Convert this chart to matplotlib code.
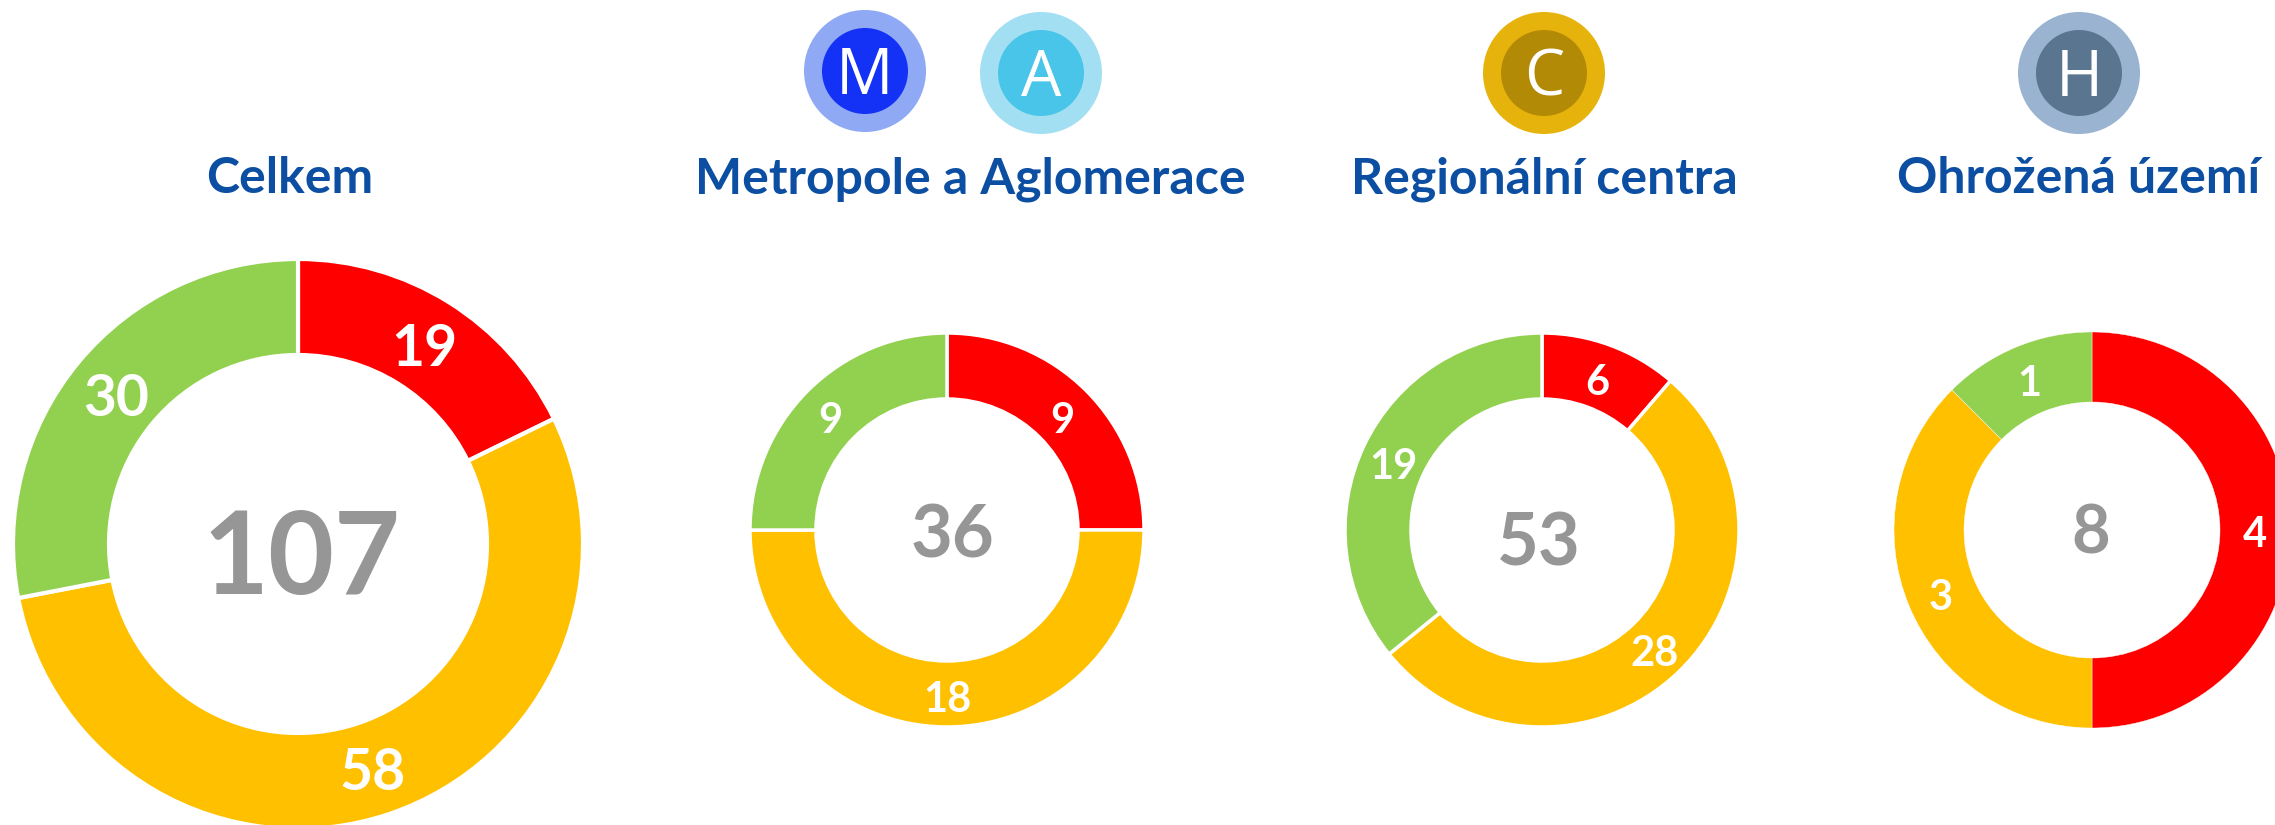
import matplotlib
matplotlib.use('Agg')
import matplotlib.pyplot as plt
from matplotlib.patches import Circle

plt.rcParams['font.family'] = ['Lato', 'DejaVu Sans']

W, H = 2275, 825

titles = ['Celkem', 'Metropole a Aglomerace', 'Regionální centra', 'Ohrožená území']
totals = [107, 36, 53, 8]
red = [19, 9, 6, 4]
amber = [58, 18, 28, 3]
green = [30, 9, 19, 1]
colors = ['#FF0000', '#FFC000', '#92D050']

# layout in pixels of the reference, y from the top
centers = [(298, 544), (947, 530), (1542, 530), (2092, 530)]
outer_r = [285, 197, 197, 198]
inner_r = [189, 131, 131, 128]
edge_w = [3, 2.5, 2.5, 0.3]
title_x = [290, 970, 1544, 2079]
total_pos = [(302, 553), (952, 532), (1539, 540), (2091, 530)]
total_size = [82, 52, 52, 48]
label_pos = [
    [(424, 345), (373, 770), (116, 396)],
    [(1062, 418), (947, 697), (830, 418)],
    [(1597, 380), (1654, 651), (1393, 464)],
    [(2255, 532), (1941, 595), (2029, 381)],
]
label_size = [41, 30, 30, 30]

badge_letters = ['M', 'A', 'C', 'H']
badge_x = [865, 1041, 1544, 2079]
badge_y = [71, 73, 73, 73]
badge_outer = ['#8FA9F5', '#A3DFF2', '#E6B30C', '#9AB3D0']
badge_inner = ['#1432F5', '#48C5E8', '#B38A06', '#5A7590']


def flip(y):
    return H - y


fig = plt.figure(figsize=(W / 100, H / 100), dpi=100)
ax = fig.add_axes([0, 0, 1, 1])

for i in range(4):
    values = [red[i], amber[i], green[i]]
    cx, cy = centers[i]
    ax.pie(values, colors=colors, startangle=90, counterclock=False,
           center=(cx, flip(cy)), radius=outer_r[i],
           wedgeprops=dict(width=outer_r[i] - inner_r[i], edgecolor='white',
                           linewidth=edge_w[i]))
    # digit height in px is about the font size in pt for Lato at this dpi
    for (x, y), v in zip(label_pos[i], values):
        ax.text(x, flip(y + label_size[i] / 2), str(v), color='white',
                fontsize=label_size[i], fontweight='bold', ha='center', va='baseline')
    x, y = total_pos[i]
    ax.text(x, flip(y + total_size[i] / 2), str(totals[i]), color='#969696',
            fontsize=total_size[i], fontweight='bold', ha='center', va='baseline')
    ax.text(title_x[i], flip(193), titles[i], color='#0B4EA2', fontsize=36,
            fontweight='bold', ha='center', va='baseline')

for i in range(4):
    xy = (badge_x[i], flip(badge_y[i]))
    ax.add_patch(Circle(xy, 61, color=badge_outer[i], lw=0))
    ax.add_patch(Circle(xy, 43, color=badge_inner[i], lw=0))
    ax.text(xy[0], flip(badge_y[i] + 23), badge_letters[i], color='white',
            fontsize=46, family='Open Sans', ha='center', va='baseline')

ax.set_xlim(0, W)
ax.set_ylim(0, H)
ax.axis('off')

fig.savefig('out.png', dpi=100)
